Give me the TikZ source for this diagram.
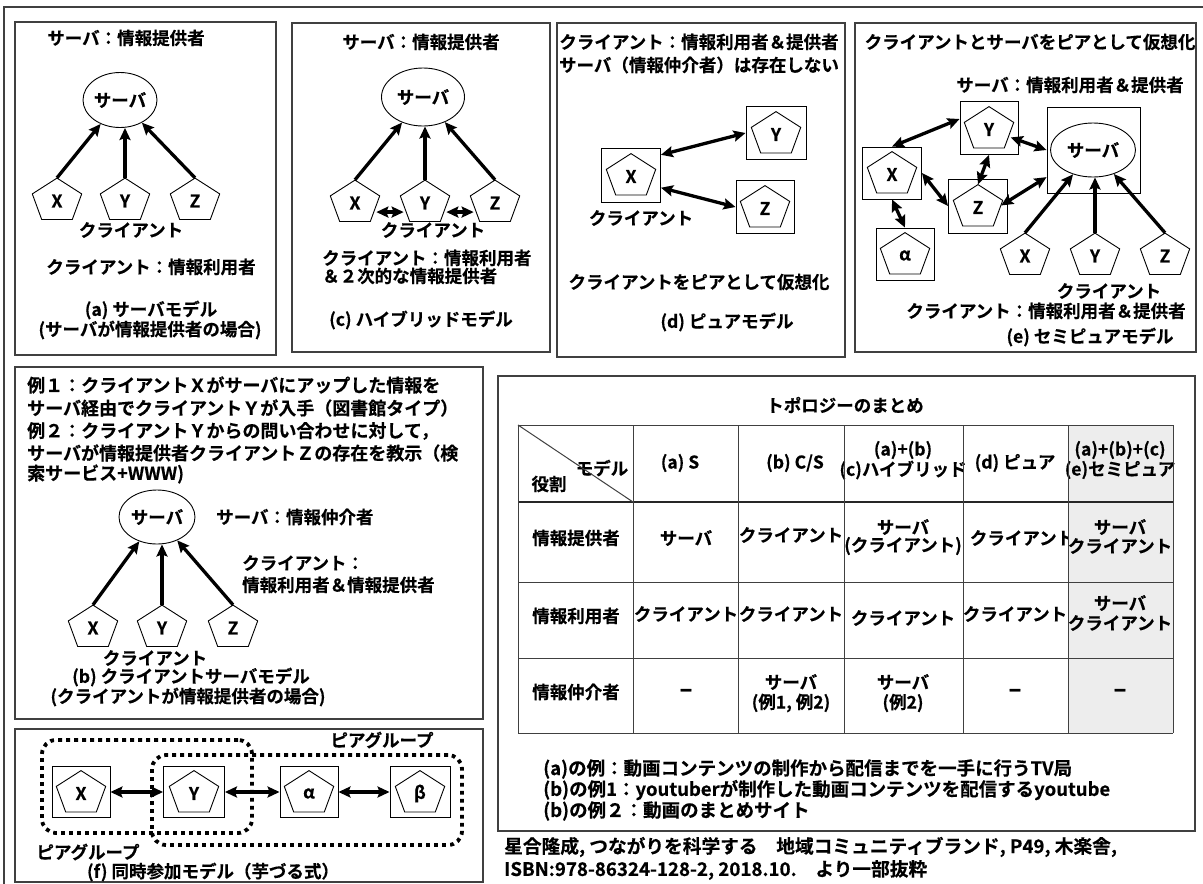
\documentclass[tikz,border=0pt]{standalone}
\usepackage{fontspec}
\setmainfont{Noto Sans CJK JP}[BoldFont={Noto Sans CJK JP Bold},BoldFeatures={FakeBold=0.4}]
\usetikzlibrary{arrows.meta,shapes.geometric}
\newcommand\fa{\fontsize{17.5}{21}\selectfont\bfseries}
\newcommand\fb{\fontsize{18}{22}\selectfont\bfseries}
\newcommand\ft{\fontsize{17.5}{21}\selectfont\bfseries}
\newcommand\fn{\fontsize{18.5}{22}\selectfont\bfseries}
\newcommand\fc{\fontsize{18.7}{22}\selectfont\bfseries}
\newcommand\fd{\fontsize{24}{24}\selectfont\bfseries}
\tikzset{
 lbl/.style={font=\fa, inner sep=0pt},
 lb/.style={font=\fb, inner sep=0pt, anchor=west},
 tl/.style={font=\ft, inner sep=0pt},
 dashcell/.style={font=\fd, inner sep=0pt},
 pnl/.style={draw=black!75, line width=1.2pt},
 srv/.style={ellipse, draw, line width=0.9pt, font=\fa, inner sep=0pt},
 pt/.style={circle, minimum size=46pt, inner sep=0pt, font=\fa},
 sq/.style={draw, line width=0.9pt, inner sep=0pt},
 arr/.style={line width=3.3pt, -{Stealth[length=12pt,width=11pt,inset=2pt]}},
 darr/.style={line width=3.3pt, {Stealth[length=12pt,width=11pt,inset=2pt]}-{Stealth[length=12pt,width=11pt,inset=2pt]}},
 grp/.style={draw, line width=3.8pt, dash pattern=on 3.8pt off 4.2pt, rounded corners=14pt, inner sep=0pt},
 tgrid/.style={draw=black!75, line width=1pt},
}
\newcommand\pent[4]{%
  \node[pt] (#1) at (#2,#3) {#4};
  \draw[line width=0.9pt] ([shift={(0,-22.9)}]#1.center) -- ([shift={(24.7,-7.1)}]#1.center) -- ([shift={(15.3,18.5)}]#1.center) -- ([shift={(-15.3,18.5)}]#1.center) -- ([shift={(-24.7,-7.1)}]#1.center) -- cycle;}
\begin{document}
\begin{tikzpicture}[x=1pt,y=-1pt]
\useasboundingbox (0,0) rectangle (1203,884);
\fill[white] (0,0) rectangle (1203,884);
\draw[pnl] (4,884) -- (4,7) -- (1203,7);

% ---------- panel (a)
\draw[pnl] (15,22) rectangle (276,355);
\node[lbl] (aT) at (126,38) {サーバ：情報提供者};
\node[srv, minimum width=74pt, minimum height=55pt] (aS) at (120,100) {サーバ};
\pent{aX}{57}{201}{X}
\pent{aY}{125}{201}{Y}
\pent{aZ}{195}{201}{Z}
\draw[arr] (aX.north) -- (aS);
\draw[arr] (aY.north) -- (aY.north |- aS.south);
\draw[arr] (aZ.north) -- (aS);
\node[lbl] (aC) at (131,230) {クライアント};
\node[lbl] (aR) at (151,267) {クライアント：情報利用者};
\node[lbl] (aM) at (151,310) {(a) サーバモデル};
\node[lbl] (aM2) at (150,330) {(サーバが情報提供者の場合)};

% ---------- panel (c)
\draw[pnl] (292,23) rectangle (550,352);
\node[lbl] (cT) at (421,42) {サーバ：情報提供者};
\node[srv, minimum width=83pt, minimum height=58pt] (cS) at (423,97) {サーバ};
\pent{cX}{355}{203}{X}
\pent{cY}{425}{203}{Y}
\pent{cZ}{495}{203}{Z}
\draw[arr] (cX.north) -- (cS);
\draw[arr] (cY.north) -- (cY.north |- cS.south);
\draw[arr] (cZ.north) -- (cS);
\draw[darr] (cX.-23) -- (cY.-157);
\draw[darr] (cY.-23) -- (cZ.-157);
\node[lbl] (cC) at (433,230) {クライアント};
\node[lbl, anchor=west] (cR) at (322,258) {クライアント：情報利用者};
\node[lbl, anchor=west] (cR2) at (322,276) {＆２次的な情報提供者};
\node[lbl] (cM) at (421,320) {(c) ハイブリッドモデル};

% ---------- panel (d)
\draw[pnl] (557,23) rectangle (845,357);
\node[lbl] (dT) at (699,42) {クライアント：情報利用者＆提供者};
\node[lbl] (dT2) at (699,65) {サーバ（情報仲介者）は存在しない};
\node[sq, minimum width=59pt, minimum height=54pt] (dX) at (631,175) {};
\node[sq, minimum width=60pt, minimum height=53pt] (dY) at (776,133) {};
\node[sq, minimum width=58pt, minimum height=53pt] (dZ) at (765,207) {};
\pent{dXp}{631}{176.5}{X}
\pent{dYp}{776}{134.5}{Y}
\pent{dZp}{765}{208.5}{Z}
\draw[darr] (dX.34) -- (dY.west);
\draw[darr] (dX.-23) -- (dZ.west);
\node[lbl] (dC) at (641,218) {クライアント};
\node[lbl] (dV) at (699,282) {クライアントをピアとして仮想化};
\node[lbl] (dM) at (727,322) {(d) ピュアモデル};

% ---------- panel (e)
\draw[pnl] (855,23) rectangle (1196,352);
\node[lbl] (eT) at (1030,42) {クライアントとサーバをピアとして仮想化};
\node[lbl] (eT2) at (1070,85) {サーバ：情報利用者＆提供者};
\node[sq, minimum width=58pt, minimum height=53pt] (eY) at (989,128) {};
\node[sq, minimum width=93pt, minimum height=86pt] (eS) at (1093.5,150) {};
\node[srv, minimum width=85pt, minimum height=54pt] (eSe) at (1093,150) {サーバ};
\node[sq, minimum width=59pt, minimum height=52pt] (eX) at (892,173) {};
\node[sq, minimum width=59pt, minimum height=54pt] (eZ) at (978,206) {};
\node[sq, minimum width=58pt, minimum height=52pt] (eA) at (905,254) {};
\pent{eYp}{989}{129.5}{Y}
\pent{eXp}{892}{174.5}{X}
\pent{eZp}{978}{207.5}{Z}
\pent{eAp}{905}{255.5}{α}
\pent{eX2}{1025}{256}{X}
\pent{eY2}{1095}{256}{Y}
\pent{eZ2}{1165}{256}{Z}
\draw[arr] (eX2.north) -- (eSe);
\draw[arr] (eY2.north) -- (eY2.north |- eSe.south);
\draw[arr] (eZ2.north) -- (eSe);
\draw[darr] (eX.north) -- (eY.163);
\draw[darr] (eYp.-20) -- (eS.west);
\draw[darr] (eY.south) -- (eZp.north);
\draw[darr] (eX.east) -- (eZ.west);
\draw[darr] (eZp.5) -- (eS.210);
\draw[darr] (eX.south) -- (eA.north);
\node[lbl] (eC) at (1109,291) {クライアント};
\node[lbl] (eR) at (1046,311) {クライアント：情報利用者＆提供者};
\node[lbl] (eM) at (1090,337) {(e) セミピュアモデル};

% ---------- panel (b)
\draw[pnl] (15,367) rectangle (483,719);
\node[lb] (bL1) at (27,385) {例１：クライアントＸがサーバにアップした情報を};
\node[lb] (bL2) at (27,408) {サーバ経由でクライアントＹが入手（図書館タイプ）};
\node[lb] (bL3) at (27,431) {例２：クライアントＹからの問い合わせに対して，};
\node[lb] (bL4) at (27,453) {サーバが情報提供者クライアントＺの存在を教示（検};
\node[lb] (bL5) at (27,474) {索サービス+WWW)};
\node[srv, minimum width=76pt, minimum height=54pt] (bS) at (157,517) {サーバ};
\node[lbl, anchor=west] (bSR) at (216,517) {サーバ：情報仲介者};
\node[lbl, anchor=west] (bCR) at (242,563) {クライアント：};
\node[lbl, anchor=west] (bCR2) at (242,585) {情報利用者＆情報提供者};
\pent{bX}{93}{628}{X}
\pent{bY}{162}{628}{Y}
\pent{bZ}{233}{628}{Z}
\draw[arr] (bX.north) -- (bS);
\draw[arr] (bY.north) -- (bY.north |- bS.south);
\draw[arr] (bZ.north) -- (bS);
\node[lbl] (bC) at (155,658) {クライアント};
\node[lbl] (bM) at (191,677) {(b) クライアントサーバモデル};
\node[lbl] (bM2) at (188,697) {(クライアントが情報提供者の場合)};

% ---------- panel (f)
\draw[pnl] (15,729) rectangle (483,882);
\node[grp, minimum width=210pt, minimum height=93pt] (g1) at (147,786.5) {};
\node[grp, minimum width=310pt, minimum height=90pt] (g2) at (307,800) {};
\node[sq, fill=white, minimum width=58pt, minimum height=51pt] (fX) at (81,792) {};
\node[sq, fill=white, minimum width=61pt, minimum height=51pt] (fY) at (194,792) {};
\node[sq, fill=white, minimum width=58pt, minimum height=51pt] (fA) at (309,792) {};
\node[sq, fill=white, minimum width=60pt, minimum height=51pt] (fB) at (420,792) {};
\pent{fXp}{81}{793.5}{X}
\pent{fYp}{194}{793.5}{Y}
\pent{fAp}{309}{793.5}{α}
\pent{fBp}{420}{793.5}{β}
\draw[darr] (fX.east) -- (fY.west);
\draw[darr] (fY.east) -- (fA.west);
\draw[darr] (fA.east) -- (fB.west);
\node[lbl] (fG1) at (382,740) {ピアグループ};
\node[lbl] (fG2) at (88,852) {ピアグループ};
\node[lbl] (fM) at (213,872) {(f) 同時参加モデル（芋づる式）};

% ---------- table panel
\draw[pnl] (498,376) rectangle (1195,831);
\node[tl] (tT) at (845,405) {トポロジーのまとめ};
% header
\node[tl] (h0a) at (602,468) {モデル};
\node[tl] (h0b) at (549,484) {役割};
\node[tl] (h1) at (680,463) {(a) S};
\node[tl] (h2) at (795,463) {(b) C/S};
\node[tl] (h3a) at (903,450) {(a)+(b)};
\node[tl] (h3b) at (903,470) {(c)ハイブリッド};
\node[tl] (h4) at (1015,463) {(d) ピュア};
% row 1
\node[tl] (r1a) at (576,538) {情報提供者};
\node[tl] (r1b) at (686,538) {サーバ};
\node[tl] (r1c) at (791,535) {クライアント};
\node[tl] (r1d1) at (903,527) {サーバ};
\node[tl] (r1d2) at (903,546) {(クライアント)};
\node[tl] (r1e) at (1022,538) {クライアント};
% row 2
\node[tl] (r2a) at (576,616) {情報利用者};
\node[tl] (r2b) at (686,614) {クライアント};
\node[tl] (r2c) at (791,614) {クライアント};
\node[tl] (r2d) at (903,618) {クライアント};
\node[tl] (r2e) at (1015,614) {クライアント};
% row 3
\node[tl] (r3a) at (576,692) {情報仲介者};
\node[dashcell] (r3b) at (686,693) {–};
\node[tl] (r3c1) at (791,682) {サーバ};
\node[tl] (r3c2) at (791,703) {(例1, 例2)};
\node[tl] (r3d1) at (903,682) {サーバ};
\node[tl] (r3d2) at (903,703) {(例2)};
\node[dashcell] (r3e) at (1015,693) {–};
% shaded column
\fill[black!7] (1068,425) rectangle (1173,733);
\node[tl] (h5a) at (1120,450) {(a)+(b)+(c)};
\node[tl] (h5b) at (1120,470) {(e)セミピュア};
\node[tl] (r1f1) at (1120,527) {サーバ};
\node[tl] (r1f2) at (1120,546) {クライアント};
\node[tl] (r2f1) at (1120,603) {サーバ};
\node[tl] (r2f2) at (1120,623) {クライアント};
\node[dashcell] (r3f) at (1120,693) {–};
% grid
\draw[tgrid] (518,425) -- (1173,425);
\draw[tgrid] (518,582) -- (1173,582);
\draw[tgrid] (518,658) -- (1173,658);
\draw[tgrid] (518,733) -- (1173,733);
\draw[draw=black!85, line width=2.8pt] (518,502) -- (1173,502);
\foreach \cx in {518,633,738,844,963,1068,1173} {\draw[tgrid] (\cx,425) -- (\cx,733);}
\draw[tgrid] (518,425) -- (633,502);
% notes
\node[lb, font=\fn] (n1) at (543,769) {(a)の例：動画コンテンツの制作から配信までを一手に行うTV局};
\node[lb, font=\fn] (n2) at (543,790) {(b)の例1：youtuberが制作した動画コンテンツを配信するyoutube};
\node[lb, font=\fn] (n3) at (543,811) {(b)の例２：動画のまとめサイト};
\node[lb, font=\fc] (cit1) at (504,847) {星合隆成, つながりを科学する　地域コミュニティブランド, P49, 木楽舎,};
\node[lb, font=\fc] (cit2) at (504,870) {ISBN:978-86324-128-2, 2018.10.　より一部抜粋};
\end{tikzpicture}
\end{document}
